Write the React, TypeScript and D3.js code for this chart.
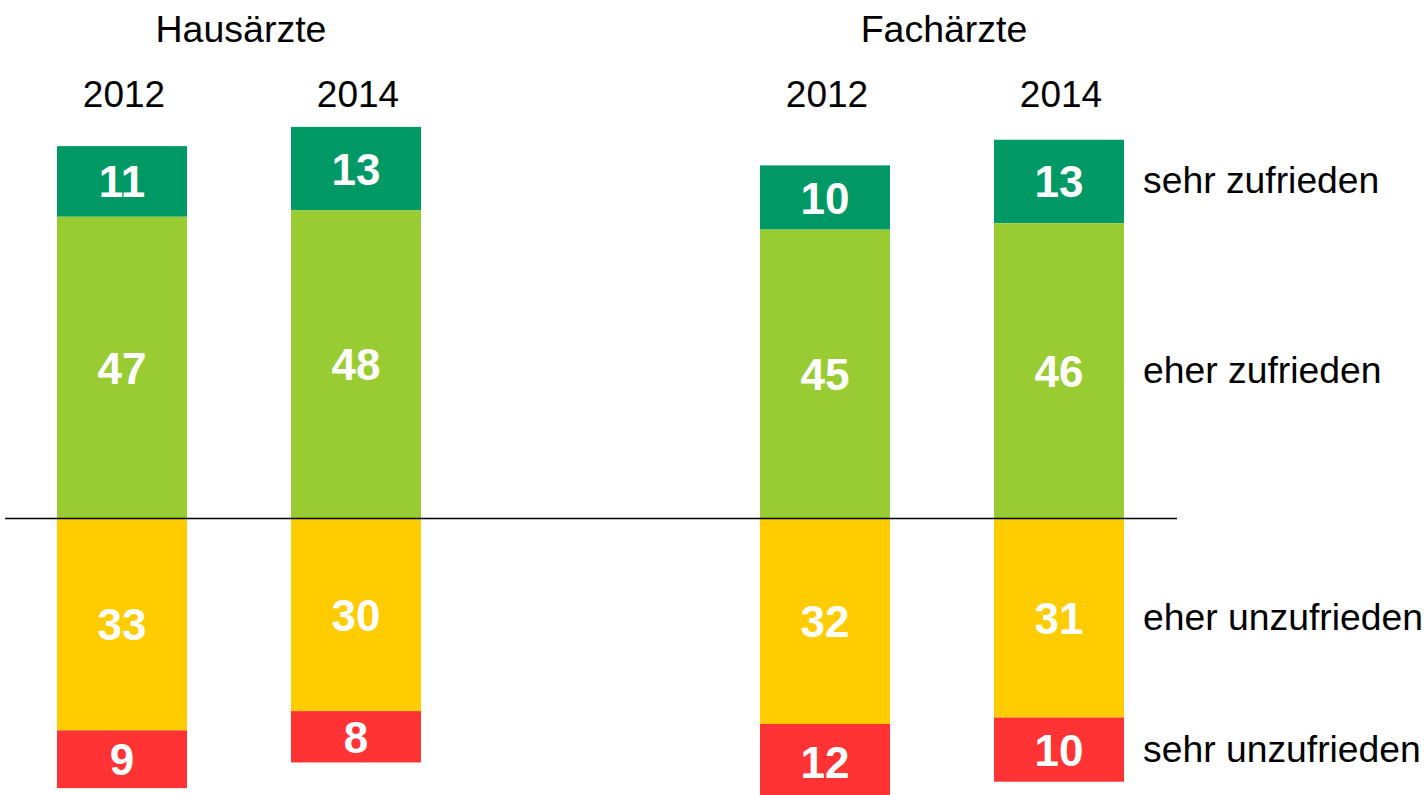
import React from "react";
import * as d3 from "d3";

const groups = ["Hausärzte", "Fachärzte"];
const years = ["2012", "2014"];
const sehrZufrieden = [11, 13, 10, 13];
const eherZufrieden = [47, 48, 45, 46];
const eherUnzufrieden = [33, 30, 32, 31];
const sehrUnzufrieden = [9, 8, 12, 10];
const categoryLabels = ["sehr zufrieden", "eher zufrieden", "eher unzufrieden", "sehr unzufrieden"];
const colors = ["#009966", "#99CC33", "#FFCC00", "#FF3333"];

const W = 1425;
const H = 795;
const FONT = "'Liberation Sans', Arial, sans-serif";

export default function App() {
  const base = 518.5;
  const ppu = 6.42;
  const y = d3.scaleLinear().domain([-50, 65]).range([base + 50 * ppu, base - 65 * ppu]);
  const outer = d3.scaleBand<string>().domain(groups).range([57, 1124]).paddingInner(1 - 364 / 703).paddingOuter(0);
  const inner = d3.scaleBand<string>().domain(years).range([0, outer.bandwidth()]).paddingInner(1 - 130 / 234).paddingOuter(0);

  const cols: { g: string; yr: string; i: number }[] = [];
  groups.forEach((g, gi) => years.forEach((yr, yi) => cols.push({ g, yr, i: gi * 2 + yi })));

  const segs = cols.map(({ i }) => {
    const a = sehrZufrieden[i], b = eherZufrieden[i], c = eherUnzufrieden[i], d = sehrUnzufrieden[i];
    return [
      { v: a, y0: b, y1: b + a, k: 0 },
      { v: b, y0: 0, y1: b, k: 1 },
      { v: c, y0: -c, y1: 0, k: 2 },
      { v: d, y0: -c - d, y1: -c, k: 3 },
    ];
  });

  const lastCol = cols[cols.length - 1];
  const lastSegs = segs[lastCol.i];

  return (
    <svg width={W} height={H} style={{ position: "absolute", left: 0, top: 0, background: "#fff" }} fontFamily={FONT}>
      {groups.map((g) => (
        <text key={g} x={(outer(g) as number) + outer.bandwidth() / 2 + 2} y={42} textAnchor="middle" fontSize={37.5} fill="#000">
          {g}
        </text>
      ))}
      {cols.map(({ g, yr, i }) => {
        const x0 = (outer(g) as number) + (inner(yr) as number);
        const bw = inner.bandwidth();
        return (
          <g key={i}>
            <text x={x0 + bw / 2 + 2} y={107} textAnchor="middle" fontSize={37} fill="#000">
              {yr}
            </text>
            {segs[i].map((s) => (
              <rect key={s.k} x={x0} y={y(s.y1)} width={bw} height={y(s.y0) - y(s.y1)} fill={colors[s.k]} />
            ))}
            {segs[i].map((s) => (
              <text
                key={"t" + s.k}
                x={x0 + bw / 2}
                y={(y(s.y0) + y(s.y1)) / 2 + 16}
                textAnchor="middle"
                fontSize={44}
                fontWeight="bold"
                fill="#fff"
              >
                {s.v}
              </text>
            ))}
          </g>
        );
      })}
      <line x1={5} x2={1177} y1={y(0)} y2={y(0)} stroke="#000" strokeWidth={1.5} />
      {lastSegs.map((s) => (
        <text key={"l" + s.k} x={1143} y={(y(s.y0) + y(s.y1)) / 2 + 12} fontSize={37.3} fill="#000">
          {categoryLabels[s.k]}
        </text>
      ))}
    </svg>
  );
}
